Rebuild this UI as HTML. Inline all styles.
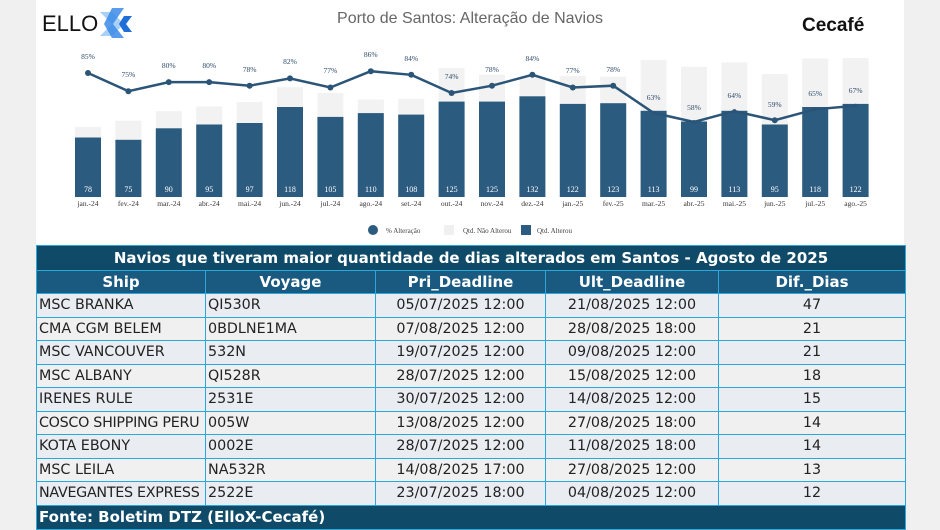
<!DOCTYPE html>
<html><head><meta charset="utf-8"><style>
body{margin:0;width:940px;height:530px;background:#f0f0f0;position:relative;overflow:hidden;font-family:"Liberation Sans",sans-serif}
#w{position:absolute;left:36px;top:0;width:868px;height:245px;background:#fff}
svg{position:absolute;left:0;top:0}
table{position:absolute;left:36px;top:245px;width:869px;border-collapse:collapse;font-family:"DejaVu Sans",Verdana,sans-serif;font-size:14.3px;table-layout:fixed}
td{border:1px solid #2aa8dc;padding:0 1px;height:22.5px;line-height:22px;white-space:nowrap;overflow:visible;color:#222}
tr.t td{background:#0f4a68;color:#fff;font-weight:bold;text-align:center;font-size:15px;height:24px}
tr.h td{background:#1b5a80;color:#fff;font-weight:bold;text-align:center;height:22px;font-size:15px}
tr.g td{background:#e9ecf0}
tr.f td{background:#0f4a68;color:#fff;font-weight:bold;text-align:left;height:23px;padding-left:2px;font-size:15px}
td.c{text-align:center}
td.l{padding-left:2px}
</style></head><body>
<div id="w"></div>
<svg width="940" height="245" font-family="Liberation Serif,serif">
<text x="42" y="31" font-family="Liberation Sans,sans-serif" font-size="22" fill="#111">ELLO</text>
<polygon points="100,12 112,12 124,24 112,36 100,36 112,24" fill="#a9d0f5"/>
<polygon points="112,8 124,8 113,24 124,38 112,38 104,24" fill="#3b8be8" opacity=".85"/>
<polygon points="124,16 132,16 126,24 132,32 124,32 119,24" fill="#1f6fd6"/>
<text x="802" y="31" font-family="Liberation Sans,sans-serif" font-size="19" font-weight="bold" fill="#111">Cecafé</text>
<text x="470" y="23" text-anchor="middle" font-family="Liberation Sans,sans-serif" font-size="16" fill="#666">Porto de Santos: Alteração de Navios</text>
<g fill="#f2f2f2">
<rect x="75" y="127" width="26" height="70"/><rect x="115.4" y="120.7" width="26" height="76.3"/><rect x="155.8" y="111.2" width="26" height="85.8"/><rect x="196.2" y="106.4" width="26" height="90.6"/><rect x="236.6" y="102.1" width="26" height="94.9"/><rect x="277" y="87.2" width="26" height="109.8"/><rect x="317.4" y="93" width="26" height="104"/><rect x="357.8" y="99.4" width="26" height="97.6"/><rect x="398.2" y="98.9" width="26" height="98.1"/><rect x="438.6" y="68.1" width="26" height="128.9"/><rect x="479" y="74.7" width="26" height="122.3"/><rect x="519.4" y="77.1" width="26" height="119.9"/><rect x="559.8" y="76.1" width="26" height="120.9"/><rect x="600.2" y="76.7" width="26" height="120.3"/><rect x="640.6" y="60.1" width="26" height="136.9"/><rect x="681" y="66.8" width="26" height="130.2"/><rect x="721.4" y="62.3" width="26" height="134.7"/><rect x="761.8" y="74.1" width="26" height="122.9"/><rect x="802.2" y="58.5" width="26" height="138.5"/><rect x="842.6" y="58.1" width="26" height="138.9"/>
</g>
<g fill="#2b5b7f">
<rect x="75" y="137.5" width="26" height="59.5"/><rect x="115.4" y="139.8" width="26" height="57.2"/><rect x="155.8" y="128.3" width="26" height="68.7"/><rect x="196.2" y="124.5" width="26" height="72.5"/><rect x="236.6" y="123" width="26" height="74"/><rect x="277" y="107" width="26" height="90"/><rect x="317.4" y="116.9" width="26" height="80.1"/><rect x="357.8" y="113.1" width="26" height="83.9"/><rect x="398.2" y="114.6" width="26" height="82.4"/><rect x="438.6" y="101.6" width="26" height="95.4"/><rect x="479" y="101.6" width="26" height="95.4"/><rect x="519.4" y="96.3" width="26" height="100.7"/><rect x="559.8" y="103.9" width="26" height="93.1"/><rect x="600.2" y="103.2" width="26" height="93.8"/><rect x="640.6" y="110.8" width="26" height="86.2"/><rect x="681" y="121.5" width="26" height="75.5"/><rect x="721.4" y="110.8" width="26" height="86.2"/><rect x="761.8" y="124.5" width="26" height="72.5"/><rect x="802.2" y="107" width="26" height="90"/><rect x="842.6" y="103.9" width="26" height="93.1"/>
</g>
<g fill="#fff" font-size="8" text-anchor="middle">
<text x="88" y="192">78</text><text x="128.4" y="192">75</text><text x="168.8" y="192">90</text><text x="209.2" y="192">95</text><text x="249.6" y="192">97</text><text x="290" y="192">118</text><text x="330.4" y="192">105</text><text x="370.8" y="192">110</text><text x="411.2" y="192">108</text><text x="451.6" y="192">125</text><text x="492" y="192">125</text><text x="532.4" y="192">132</text><text x="572.8" y="192">122</text><text x="613.2" y="192">123</text><text x="653.6" y="192">113</text><text x="694" y="192">99</text><text x="734.4" y="192">113</text><text x="774.8" y="192">95</text><text x="815.2" y="192">118</text><text x="855.6" y="192">122</text>
</g>
<g fill="#333" font-size="7.5" text-anchor="middle">
<text x="88" y="206">jan.-24</text><text x="128.4" y="206">fev.-24</text><text x="168.8" y="206">mar.-24</text><text x="209.2" y="206">abr.-24</text><text x="249.6" y="206">mai.-24</text><text x="290" y="206">jun.-24</text><text x="330.4" y="206">jul.-24</text><text x="370.8" y="206">ago.-24</text><text x="411.2" y="206">set.-24</text><text x="451.6" y="206">out.-24</text><text x="492" y="206">nov.-24</text><text x="532.4" y="206">dez.-24</text><text x="572.8" y="206">jan.-25</text><text x="613.2" y="206">fev.-25</text><text x="653.6" y="206">mar.-25</text><text x="694" y="206">abr.-25</text><text x="734.4" y="206">mai.-25</text><text x="774.8" y="206">jun.-25</text><text x="815.2" y="206">jul.-25</text><text x="855.6" y="206">ago.-25</text>
</g>
<polyline fill="none" stroke="#2b5578" stroke-width="2.5" points="88,73 128.4,91.2 168.8,82.1 209.2,82.1 249.6,85.7 290,78.4 330.4,87.5 370.8,71.2 411.2,74.8 451.6,93 492,85.7 532.4,74.8 572.8,87.5 613.2,85.7 653.6,112.9 694,122 734.4,111.1 774.8,120.2 815.2,109.3 855.6,105.7"/>
<g fill="#2b5578">
<circle cx="88" cy="73" r="3"/><circle cx="128.4" cy="91.2" r="3"/><circle cx="168.8" cy="82.1" r="3"/><circle cx="209.2" cy="82.1" r="3"/><circle cx="249.6" cy="85.7" r="3"/><circle cx="290" cy="78.4" r="3"/><circle cx="330.4" cy="87.5" r="3"/><circle cx="370.8" cy="71.2" r="3"/><circle cx="411.2" cy="74.8" r="3"/><circle cx="451.6" cy="93" r="3"/><circle cx="492" cy="85.7" r="3"/><circle cx="532.4" cy="74.8" r="3"/><circle cx="572.8" cy="87.5" r="3"/><circle cx="613.2" cy="85.7" r="3"/><circle cx="653.6" cy="112.9" r="2"/><circle cx="694" cy="122" r="2"/><circle cx="734.4" cy="111.1" r="2"/><circle cx="774.8" cy="120.2" r="3"/><circle cx="815.2" cy="109.3" r="2"/><circle cx="855.6" cy="105.7" r="2"/>
</g>
<g fill="#2b4a6a" font-size="7.5" text-anchor="middle">
<text x="88" y="59">85%</text><text x="128.4" y="77">75%</text><text x="168.8" y="68">80%</text><text x="209.2" y="68">80%</text><text x="249.6" y="72">78%</text><text x="290" y="64">82%</text><text x="330.4" y="73">77%</text><text x="370.8" y="57">86%</text><text x="411.2" y="61">84%</text><text x="451.6" y="79">74%</text><text x="492" y="72">78%</text><text x="532.4" y="61">84%</text><text x="572.8" y="73">77%</text><text x="613.2" y="72">78%</text><text x="653.6" y="100">63%</text><text x="694" y="110">58%</text><text x="734.4" y="98">64%</text><text x="774.8" y="107">59%</text><text x="815.2" y="96">65%</text><text x="855.6" y="93">67%</text>
</g>
<circle cx="373" cy="230" r="5" fill="#2b5b7f"/>
<text x="386" y="233" font-size="7" fill="#444">% Alteração</text>
<rect x="444" y="225" width="10" height="10" fill="#f0f0f0"/>
<text x="453" y="233" font-size="7" fill="#444" dx="10">Qtd. Não Alterou</text>
<rect x="521" y="225" width="10" height="10" fill="#2b5b7f"/>
<text x="537" y="233" font-size="7" fill="#444">Qtd. Alterou</text>
</svg>
<table>
<colgroup><col style="width:169px"><col style="width:170px"><col style="width:170px"><col style="width:173px"><col style="width:187px"></colgroup>
<tr class="t"><td colspan="5">Navios que tiveram maior quantidade de dias alterados em Santos - Agosto de 2025</td></tr>
<tr class="h"><td>Ship</td><td>Voyage</td><td>Pri_Deadline</td><td>Ult_Deadline</td><td>Dif._Dias</td></tr>
<tr class="g"><td class="l">MSC BRANKA</td><td class="l">QI530R</td><td class="c">05/07/2025 12:00</td><td class="c">21/08/2025 12:00</td><td class="c">47</td></tr>
<tr><td class="l">CMA CGM BELEM</td><td class="l">0BDLNE1MA</td><td class="c">07/08/2025 12:00</td><td class="c">28/08/2025 18:00</td><td class="c">21</td></tr>
<tr class="g"><td class="l">MSC VANCOUVER</td><td class="l">532N</td><td class="c">19/07/2025 12:00</td><td class="c">09/08/2025 12:00</td><td class="c">21</td></tr>
<tr><td class="l">MSC ALBANY</td><td class="l">QI528R</td><td class="c">28/07/2025 12:00</td><td class="c">15/08/2025 12:00</td><td class="c">18</td></tr>
<tr class="g"><td class="l">IRENES RULE</td><td class="l">2531E</td><td class="c">30/07/2025 12:00</td><td class="c">14/08/2025 12:00</td><td class="c">15</td></tr>
<tr><td class="l" style="letter-spacing:-0.3px">COSCO SHIPPING PERU</td><td class="l">005W</td><td class="c">13/08/2025 12:00</td><td class="c">27/08/2025 18:00</td><td class="c">14</td></tr>
<tr class="g"><td class="l">KOTA EBONY</td><td class="l">0002E</td><td class="c">28/07/2025 12:00</td><td class="c">11/08/2025 18:00</td><td class="c">14</td></tr>
<tr><td class="l">MSC LEILA</td><td class="l">NA532R</td><td class="c">14/08/2025 17:00</td><td class="c">27/08/2025 12:00</td><td class="c">13</td></tr>
<tr class="g"><td class="l" style="letter-spacing:-0.3px">NAVEGANTES EXPRESS</td><td class="l">2522E</td><td class="c">23/07/2025 18:00</td><td class="c">04/08/2025 12:00</td><td class="c">12</td></tr>
<tr class="f"><td colspan="5">Fonte: Boletim DTZ (ElloX-Cecafé)</td></tr>
</table>
</body></html>
